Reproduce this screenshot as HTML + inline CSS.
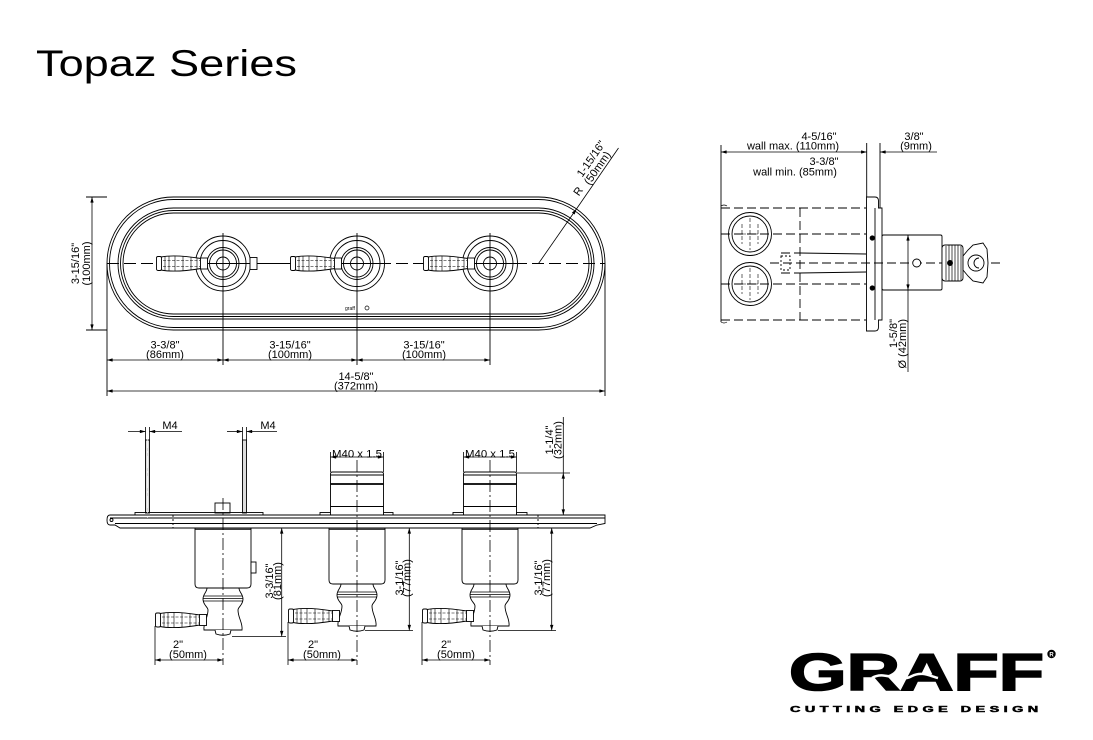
<!DOCTYPE html>
<html><head><meta charset="utf-8">
<style>
html,body{margin:0;padding:0;background:#fff;}
svg{display:block;}
text{font-family:"Liberation Sans",Arial,sans-serif;fill:#000;}
</style></head><body>
<svg width="1093" height="740" viewBox="0 0 1093 740" xmlns="http://www.w3.org/2000/svg">
<defs>
<marker id="ar" viewBox="0 0 10 6" refX="10" refY="3" markerWidth="8" markerHeight="3.4" markerUnits="userSpaceOnUse" orient="auto-start-reverse"><path d="M0,0 L10,3 L0,6 z" fill="#000"/></marker>
<g id="lever">
 <path d="M5,-6.5 C15,-8.5 27,-8 45,-5 L45,5 C27,8 15,8.5 5,6.5 Z" fill="#fff" stroke="#000" stroke-width="0.9"/>
 <rect x="0.5" y="-7" width="5" height="14" rx="1.5" fill="#fff" stroke="#000" stroke-width="0.9"/>
 <rect x="44.5" y="-5.5" width="7" height="11" fill="#fff" stroke="#000" stroke-width="0.9"/>
 <path d="M9,-7 V7 M13,-7.5 V7.5 M19,-7.5 V7.5 M27,-7 V7 M35,-6 V6 M41,-5.5 V5.5" stroke="#000" stroke-width="0.6"/>
 <path d="M7,-3 H44 M7,3 H44" stroke="#000" stroke-width="0.6" stroke-dasharray="3,1.5"/>
</g>
<g id="bon">
 <path d="M-16,0 C-16,4 -20,6 -20,11 C-20,17 -15,19 -15,22 C-15,30 -20,35 -19,42 L19,42 C20,35 15,30 15,22 C15,19 20,17 20,11 C20,6 16,4 16,0 Z" fill="#fff" stroke="#000" stroke-width="0.9"/>
 <path d="M-19.5,8 H19.5 M-20,10.5 H20 M-19.5,13 H19.5" stroke="#000" stroke-width="0.8"/>
 <path d="M-8,42 L-7,46 Q0,48.5 7,46 L8,42" fill="#fff" stroke="#000" stroke-width="0.9"/>
</g>
<g id="fv">
 <circle r="27.5"/><circle r="23"/><circle r="16"/><circle r="13.5"/><circle r="6.5"/>
</g>
</defs>

<!-- Title -->
<text x="36" y="76" font-size="37" textLength="261" lengthAdjust="spacingAndGlyphs">Topaz Series</text>

<!-- ================= FRONT VIEW ================= -->
<g fill="none" stroke="#000" stroke-width="0.9">
 <path d="M173.5,197 H538.5 A66.5,66.5 0 0 1 538.5,330 H173.5 A66.5,66.5 0 0 1 173.5,197 Z"/>
 <path d="M173.5,199.5 H538.5 A64,64 0 0 1 538.5,327.5 H173.5 A64,64 0 0 1 173.5,199.5 Z"/>
 <path d="M173.5,208 H538.5 A55.5,55.5 0 0 1 538.5,319 H173.5 A55.5,55.5 0 0 1 173.5,208 Z"/>
 <path d="M173.5,210.5 H538.5 A53,53 0 0 1 538.5,316.5 H173.5 A53,53 0 0 1 173.5,210.5 Z"/>
 <path d="M173.5,213 H538.5 A50.5,50.5 0 0 1 538.5,314 H173.5 A50.5,50.5 0 0 1 173.5,213 Z"/>
 <!-- centerline -->
 <line x1="107" y1="263.5" x2="605" y2="263.5" stroke-dasharray="12,5"/>
 <line x1="193" y1="263.5" x2="292" y2="263.5"/>
 <line x1="327" y1="263.5" x2="387" y2="263.5"/>
 <line x1="460" y1="263.5" x2="520" y2="263.5"/>
 <!-- valves -->
 <use href="#fv" x="223" y="263.5"/>
 <use href="#fv" x="357" y="263.5"/>
 <use href="#fv" x="490" y="263.5"/>
 <rect x="250" y="257.5" width="7" height="12" fill="#fff"/>
 <!-- valve verticals / extensions -->
 <line x1="223" y1="233" x2="223" y2="365"/>
 <line x1="357" y1="233" x2="357" y2="365"/>
 <line x1="490" y1="233" x2="490" y2="365"/>
 <line x1="107" y1="263.5" x2="107" y2="396"/>
 <line x1="605" y1="263.5" x2="605" y2="396"/>
 <line x1="86" y1="197" x2="107" y2="197"/>
 <line x1="86" y1="330" x2="107" y2="330"/>
</g>
<use href="#lever" x="156" y="263.5"/>
<use href="#lever" x="290" y="263.5"/>
<use href="#lever" x="423" y="263.5"/>
<text x="345" y="310" font-size="5">graff</text>
<circle cx="367" cy="308" r="2" fill="none" stroke="#000" stroke-width="0.7"/>

<!-- front dims -->
<g stroke="#000" stroke-width="0.8" fill="none">
 <line x1="92" y1="197" x2="92" y2="330" marker-start="url(#ar)" marker-end="url(#ar)"/>
 <line x1="107" y1="360" x2="223" y2="360" marker-start="url(#ar)" marker-end="url(#ar)"/>
 <line x1="223" y1="360" x2="357" y2="360" marker-start="url(#ar)" marker-end="url(#ar)"/>
 <line x1="357" y1="360" x2="490" y2="360" marker-start="url(#ar)" marker-end="url(#ar)"/>
 <line x1="107" y1="391" x2="605" y2="391" marker-start="url(#ar)" marker-end="url(#ar)"/>
 <line x1="538.5" y1="263.5" x2="576.5" y2="208.9" marker-end="url(#ar)"/>
 <line x1="576.5" y1="208.9" x2="618.5" y2="148"/>
</g>
<g font-size="11" text-anchor="middle">
 <text x="165" y="348.5">3-3/8"</text><text x="165" y="358">(86mm)</text>
 <text x="290" y="348.5">3-15/16"</text><text x="290" y="358">(100mm)</text>
 <text x="424" y="348.5">3-15/16"</text><text x="424" y="358">(100mm)</text>
 <text x="356" y="380">14-5/8"</text><text x="356" y="389.5">(372mm)</text>
 <text transform="translate(79,263.5) rotate(-90)">3-15/16"</text>
 <text transform="translate(90,263.5) rotate(-90)">(100mm)</text>
 <g transform="translate(538.5,263.5) rotate(-55.2)">
  <text x="82" y="-5">R</text>
  <text x="116" y="-13">1-15/16"</text>
  <text x="112" y="-2.5">(50mm)</text>
 </g>
</g>

<!-- ================= SIDE VIEW ================= -->
<g fill="none" stroke="#000" stroke-width="0.9">
 <!-- hidden lines -->
 <g stroke-dasharray="9,4">
  <line x1="721" y1="208" x2="866" y2="208"/>
  <line x1="721" y1="320" x2="866" y2="320"/>
  <line x1="800" y1="208" x2="800" y2="320"/>
  <line x1="721" y1="234" x2="866" y2="234"/>
  <line x1="721" y1="284" x2="866" y2="284"/>
  <line x1="770" y1="263" x2="1000" y2="263"/>
  <line x1="781" y1="253" x2="800" y2="253"/>
  <line x1="781" y1="273" x2="800" y2="273"/>
 </g>
 <rect x="781" y="256" width="9" height="14" stroke-dasharray="2,2"/>
 <line x1="800" y1="253" x2="866" y2="254"/>
 <line x1="800" y1="273" x2="866" y2="272"/>
 <circle cx="750" cy="234" r="21.5"/><circle cx="750" cy="234" r="18"/>
 <circle cx="750" cy="284" r="21.5"/><circle cx="750" cy="284" r="18"/>
 <path d="M750,218 V250 M736,234 H764 M742,224 V244 M758,224 V244 M750,268 V300 M736,284 H764 M742,274 V294 M758,274 V294" stroke-width="0.6" stroke-dasharray="4,2"/>
 <path d="M721,206 q3,-2 6,0 M721,322 q3,2 6,0" stroke-width="0.7"/>
 <!-- extension -->
 <line x1="721" y1="145" x2="721" y2="322"/>
 <line x1="866.7" y1="143" x2="866.7" y2="197"/>
 <line x1="880" y1="143" x2="880" y2="208"/>
 <!-- plate -->
 <path d="M866.5,197 H875 Q878.5,197 878.5,201 V208 H882 V320 H878.5 V327 Q878.5,331 875,331 H866.5 Z" fill="#fff"/>
 <line x1="875" y1="208" x2="875" y2="320"/>
 <circle cx="872.3" cy="238" r="2.2" fill="#000"/>
 <circle cx="872.3" cy="288" r="2.2" fill="#000"/>
 <!-- body -->
 <rect x="882" y="235" width="60" height="55" rx="1.5" fill="#fff"/>
 <line x1="770" y1="263" x2="1000" y2="263" stroke-dasharray="9,4"/>
 <circle cx="916.7" cy="263" r="4" fill="#fff"/>
 <!-- knurl ring -->
 <rect x="942" y="245" width="21" height="36" rx="3" fill="#fff"/>
 <path d="M946,246 V280 M949,245 V281 M952,245 V281 M955,245 V281 M958,245 V281 M961,246 V280" stroke-width="0.7"/>
 <circle cx="950" cy="263" r="2.5" fill="#000"/>
 <!-- handle -->
 <path d="M963,256 L968,250 L973,245 L983,243 L987,249 L988,263 L987,277 L983,283 L973,281 L968,276 L963,270 Z" fill="#fff"/>
 <circle cx="976" cy="263" r="8" fill="#fff"/>
 <path d="M979,258 A5,5 0 1 0 979,268" />
</g>
<g stroke="#000" stroke-width="0.8" fill="none">
 <line x1="721" y1="152" x2="866.7" y2="152" marker-start="url(#ar)" marker-end="url(#ar)"/>
 <line x1="937" y1="152" x2="880" y2="152" marker-end="url(#ar)"/>
 <line x1="908" y1="235" x2="908" y2="290" marker-start="url(#ar)" marker-end="url(#ar)"/>
 <line x1="908" y1="290" x2="908" y2="372"/>
</g>
<g font-size="11" text-anchor="middle">
 <text x="819" y="140">4-5/16"</text>
 <text x="793" y="149.5">wall max. (110mm)</text>
 <text x="824" y="165">3-3/8"</text>
 <text x="795" y="175.5">wall min. (85mm)</text>
 <text x="914" y="140">3/8"</text>
 <text x="916" y="149.5">(9mm)</text>
 <text transform="translate(897,319) rotate(-90)" text-anchor="end">1-5/8"</text>
 <text transform="translate(906,319) rotate(-90)" text-anchor="end">Ø (42mm)</text>
</g>

<!-- ================= BOTTOM VIEW ================= -->
<g fill="none" stroke="#000" stroke-width="0.9">
 <!-- studs -->
 <rect x="145.5" y="440" width="4" height="73" fill="#ddd"/>
 <rect x="242.5" y="440" width="4" height="73" fill="#ddd"/>
 <rect x="215" y="503" width="15" height="10" fill="#fff"/>
 <!-- raised bases -->
 <rect x="135" y="512.5" width="128" height="2.5"/>
 <rect x="320" y="512.5" width="73" height="2.5"/>
 <rect x="453" y="512.5" width="74" height="2.5"/>
 <!-- M40 cylinders -->
 <path d="M330.5,515 V474 Q330.5,472 332.5,472 H381.5 Q383.5,472 383.5,474 V515" fill="#fff"/>
 <path d="M330.5,475 H383.5 M330.5,506.5 H383.5" />
 <path d="M330.5,484 H383.5" stroke-width="1.8"/>
 <path d="M463.5,515 V474 Q463.5,472 465.5,472 H514.5 Q516.5,472 516.5,474 V515" fill="#fff"/>
 <path d="M463.5,475 H516.5 M463.5,506.5 H516.5" />
 <path d="M463.5,484 H516.5" stroke-width="1.8"/>
 <!-- plate -->
 <path d="M110,515 H605 V523.5 L597,525 L590,528 H120 L115,525 H110 Q107,525 107,520 Q107,515 110,515 Z" fill="#fff"/>
 <line x1="110" y1="518" x2="605" y2="518"/>
 <line x1="115" y1="523.5" x2="597" y2="523.5"/>
 <circle cx="111.5" cy="520" r="1.5"/>
 <line x1="173" y1="515" x2="173" y2="528" stroke-dasharray="2,2"/>
 <line x1="538" y1="515" x2="538" y2="528" stroke-dasharray="2,2"/>
 <!-- bodies below -->
 <path d="M195,528 V584 Q195,588 199,588 H247 Q251,588 251,584 V528" fill="#fff"/>
 <rect x="251" y="562" width="5" height="11" fill="#fff"/>
 <path d="M329,528 V580 Q329,584 333,584 H381 Q385,584 385,580 V528" fill="#fff"/>
 <path d="M462,528 V580 Q462,584 466,584 H514 Q518,584 518,580 V528" fill="#fff"/>
 <line x1="195" y1="529" x2="251" y2="529" stroke-width="1.6"/>
 <line x1="329" y1="529" x2="385" y2="529" stroke-width="1.6"/>
 <line x1="462" y1="529" x2="518" y2="529" stroke-width="1.6"/>
</g>
<use href="#bon" x="223" y="588"/>
<use href="#bon" x="357" y="584"/>
<use href="#bon" x="490" y="584"/>
<use href="#lever" x="155" y="620"/>
<use href="#lever" x="288" y="616"/>
<use href="#lever" x="422" y="616"/>
<g fill="none" stroke="#000" stroke-width="0.8">
 <!-- centerlines -->
 <line x1="223" y1="498" x2="223" y2="665" stroke-dasharray="12,3,2,3"/>
 <line x1="357" y1="460" x2="357" y2="665" stroke-dasharray="12,3,2,3"/>
 <line x1="490" y1="460" x2="490" y2="665" stroke-dasharray="12,3,2,3"/>
 <line x1="147.5" y1="436" x2="147.5" y2="518" stroke-dasharray="12,3,2,3" stroke="#fff" stroke-width="0.6"/>
 <!-- M4 dims -->
 <line x1="145.5" y1="427" x2="145.5" y2="440"/>
 <line x1="149.5" y1="427" x2="149.5" y2="440"/>
 <line x1="128" y1="431.5" x2="145.5" y2="431.5" marker-end="url(#ar)"/>
 <line x1="182" y1="431.5" x2="149.5" y2="431.5" marker-end="url(#ar)"/>
 <line x1="242.5" y1="427" x2="242.5" y2="440"/>
 <line x1="246.5" y1="427" x2="246.5" y2="440"/>
 <line x1="227" y1="431.5" x2="242.5" y2="431.5" marker-end="url(#ar)"/>
 <line x1="277" y1="431.5" x2="246.5" y2="431.5" marker-end="url(#ar)"/>
 <!-- M40 dims -->
 <line x1="330.5" y1="452" x2="330.5" y2="472"/>
 <line x1="383.5" y1="452" x2="383.5" y2="472"/>
 <line x1="330.5" y1="457" x2="383.5" y2="457" marker-start="url(#ar)" marker-end="url(#ar)"/>
 <line x1="463.5" y1="452" x2="463.5" y2="472"/>
 <line x1="516.5" y1="452" x2="516.5" y2="472"/>
 <line x1="463.5" y1="457" x2="516.5" y2="457" marker-start="url(#ar)" marker-end="url(#ar)"/>
 <!-- 1-1/4 -->
 <line x1="517" y1="473" x2="570" y2="473"/>
 <line x1="563.3" y1="417" x2="563.3" y2="473"/>
 <line x1="563.3" y1="473" x2="563.3" y2="515" marker-start="url(#ar)" marker-end="url(#ar)"/>
 <!-- height dims -->
 <line x1="281.7" y1="528" x2="281.7" y2="636.5" marker-start="url(#ar)" marker-end="url(#ar)"/>
 <line x1="232" y1="636.5" x2="286" y2="636.5"/>
 <line x1="409.3" y1="528" x2="409.3" y2="630.5" marker-start="url(#ar)" marker-end="url(#ar)"/>
 <line x1="365" y1="630.5" x2="413" y2="630.5"/>
 <line x1="551.7" y1="528" x2="551.7" y2="630.5" marker-start="url(#ar)" marker-end="url(#ar)"/>
 <line x1="498" y1="630.5" x2="556" y2="630.5"/>
 <line x1="590" y1="528" x2="556" y2="528"/>
 <!-- 2" dims -->
 <line x1="155" y1="626" x2="155" y2="665"/>
 <line x1="288" y1="622" x2="288" y2="665"/>
 <line x1="422" y1="622" x2="422" y2="665"/>
 <line x1="155" y1="660" x2="223" y2="660" marker-start="url(#ar)" marker-end="url(#ar)"/>
 <line x1="288" y1="660" x2="357" y2="660" marker-start="url(#ar)" marker-end="url(#ar)"/>
 <line x1="422" y1="660" x2="490" y2="660" marker-start="url(#ar)" marker-end="url(#ar)"/>
</g>
<g font-size="11" text-anchor="middle">
 <text x="170" y="429">M4</text>
 <text x="268" y="429">M4</text>
 <text x="332" y="457.5" text-anchor="start" textLength="50" lengthAdjust="spacingAndGlyphs">M40 x 1.5</text>
 <text x="465" y="457.5" text-anchor="start" textLength="50" lengthAdjust="spacingAndGlyphs">M40 x 1.5</text>
 <text transform="translate(553,440) rotate(-90)">1-1/4"</text>
 <text transform="translate(561.5,440) rotate(-90)">(32mm)</text>
 <text transform="translate(273,581) rotate(-90)">3-3/16"</text>
 <text transform="translate(281,581) rotate(-90)">(81mm)</text>
 <text transform="translate(403,578) rotate(-90)">3-1/16"</text>
 <text transform="translate(410.5,578) rotate(-90)">(77mm)</text>
 <text transform="translate(542,578) rotate(-90)">3-1/16"</text>
 <text transform="translate(550,578) rotate(-90)">(77mm)</text>
 <text x="178" y="648">2"</text><text x="188" y="658">(50mm)</text>
 <text x="313" y="648">2"</text><text x="322" y="658">(50mm)</text>
 <text x="446" y="648">2"</text><text x="456" y="658">(50mm)</text>
</g>

<!-- ================= LOGO ================= -->
<text x="789" y="690" font-size="52" font-weight="bold" textLength="255" lengthAdjust="spacingAndGlyphs" stroke="#000" stroke-width="1.6">GRAFF</text>
<path d="M872,678 C885,670 898,684 912,676 C922,671 930,676 938,678" fill="none" stroke="#fff" stroke-width="2.5"/>
<circle cx="1051.5" cy="654" r="4.2" fill="#000"/>
<text x="1051.5" y="656.5" font-size="6" font-weight="bold" text-anchor="middle" style="fill:#fff">R</text>
<g transform="scale(1.7,1)">
 <text x="464.7" y="712" font-size="8.5" font-weight="bold" textLength="146" stroke="#000" stroke-width="0.5">CUTTING EDGE DESIGN</text>
</g>
</svg>
</body></html>
